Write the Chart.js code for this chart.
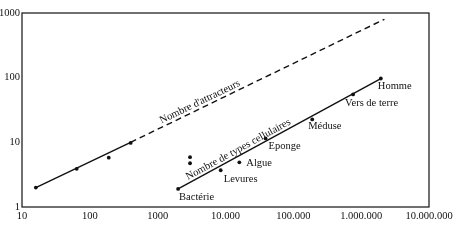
<!DOCTYPE html>
<html><head><meta charset="utf-8">
<script src="https://cdn.jsdelivr.net/npm/chart.js@4"></script>
<style>html,body{margin:0;padding:0;background:#fff}canvas{display:block}</style>
</head><body>
<canvas id="c" width="459" height="240"></canvas>
<script>
const xTicks = [10, 100, 1000, 1e4, 1e5, 1e6, 1e7];
const xTickLabels = ["10", "100", "1000", "10.000", "100.000", "1.000.000", "10.000.000"];
const yTicks = [1, 10, 100, 1000];
const yTickLabels = ["1", "10", "100", "1000"];

const attractorX = [16, 64, 190, 400];
const attractorY = [2, 3.9, 5.8, 9.8];
const attractorTrendX = [16, 400, 2.2e6];
const attractorTrendY = [2, 10, 800];

const cellNames = ["Bactérie", "", "", "Levures", "Algue", "Eponge", "Méduse", "Vers de terre", "Homme"];
const cellX = [2000, 3000, 3000, 8500, 16000, 39000, 190000, 760000, 1950000];
const cellY = [1.9, 5.9, 4.75, 3.7, 4.9, 11.5, 22.6, 55, 97];
const cellTrendX = [2000, 1950000];
const cellTrendY = [1.9, 97];

const lineLabels = ["Nombre d'attracteurs", "Nombre de types cellulaires"];

const pts = (xs, ys) => xs.map((x, i) => ({x: x, y: ys[i]}));

// label offsets in pixels (style only)
const labelOffsets = [[1, 8], null, null, [3, 9], [7, 1], [3, 8], [-4, 7], [-8, 9], [-3, 8]];
const FONT = "10.5px 'Liberation Serif', 'DejaVu Serif', serif";
const INK = '#111';

const annot = {
  id: 'annot',
  afterDatasetsDraw(chart) {
    const {ctx, chartArea: a, scales: {x, y}} = chart;
    ctx.save();
    // frame
    ctx.strokeStyle = INK;
    ctx.lineWidth = 1.2;
    ctx.strokeRect(a.left, a.top, a.right - a.left, a.bottom - a.top);
    ctx.fillStyle = INK;
    ctx.font = FONT;
    ctx.textBaseline = 'middle';
    ctx.textAlign = 'left';
    cellNames.forEach((n, i) => {
      if (!n) return;
      const px = x.getPixelForValue(cellX[i]);
      const py = y.getPixelForValue(cellY[i]);
      const o = labelOffsets[i];
      ctx.fillText(n, px + o[0], py + o[1]);
    });
    // line labels along trend lines
    const drawAlong = (txt, xs, ys, xAt, gap) => {
      const x0 = x.getPixelForValue(xs[0]), y0 = y.getPixelForValue(ys[0]);
      const x1 = x.getPixelForValue(xs[xs.length - 1]), y1 = y.getPixelForValue(ys[ys.length - 1]);
      const ang = Math.atan2(y1 - y0, x1 - x0);
      const lx0 = Math.log10(xs[0]), lx1 = Math.log10(xs[xs.length - 1]);
      const ly0 = Math.log10(ys[0]), ly1 = Math.log10(ys[ys.length - 1]);
      const t = (Math.log10(xAt) - lx0) / (lx1 - lx0);
      const yAt = Math.pow(10, ly0 + t * (ly1 - ly0));
      const px = x.getPixelForValue(xAt), py = y.getPixelForValue(yAt);
      ctx.save();
      ctx.translate(px, py);
      ctx.rotate(ang);
      ctx.textAlign = 'center';
      ctx.textBaseline = 'alphabetic';
      ctx.fillText(txt, 0, -gap);
      ctx.restore();
    };
    drawAlong(lineLabels[0], attractorTrendX, attractorTrendY, 4570, 3);
    drawAlong(lineLabels[1], cellTrendX, cellTrendY, 17000, 3);
    ctx.restore();
  }
};

new Chart(document.getElementById('c'), {
  type: 'scatter',
  data: {
    datasets: [
      {data: pts(attractorX, attractorY), pointRadius: 1.9, pointBackgroundColor: INK, pointBorderWidth: 0, showLine: false},
      {data: pts(attractorTrendX.slice(0, 2), attractorTrendY.slice(0, 2)), showLine: true, pointRadius: 0, borderColor: INK, borderWidth: 1.4},
      {data: pts(attractorTrendX.slice(1), attractorTrendY.slice(1)), showLine: true, pointRadius: 0, borderColor: INK, borderWidth: 1.4, borderDash: [6, 4]},
      {data: pts(cellX, cellY), pointRadius: 1.9, pointBackgroundColor: INK, pointBorderWidth: 0, showLine: false},
      {data: pts(cellTrendX, cellTrendY), showLine: true, pointRadius: 0, borderColor: INK, borderWidth: 1.4}
    ]
  },
  options: {
    responsive: false,
    animation: false,
    devicePixelRatio: 1,
    layout: {padding: {top: 13, right: 30, left: 0, bottom: 0}},
    plugins: {legend: {display: false}, tooltip: {enabled: false}},
    scales: {
      x: {
        type: 'logarithmic', min: 10, max: 1e7,
        afterBuildTicks: s => { s.ticks = xTicks.map(v => ({value: v})); },
        afterFit: s => { s.height = 33; },
        grid: {display: false, drawTicks: false},
        border: {display: false},
        ticks: {
          autoSkip: false, maxRotation: 0, padding: 3, color: INK,
          font: {family: "'Liberation Serif'", size: 10.5},
          callback: v => xTickLabels[xTicks.indexOf(v)]
        }
      },
      y: {
        type: 'logarithmic', min: 1, max: 1000,
        afterBuildTicks: s => { s.ticks = yTicks.map(v => ({value: v})); },
        afterFit: s => { s.width = 22; },
        grid: {display: false, drawTicks: false},
        border: {display: false},
        ticks: {
          autoSkip: false, padding: 2, color: INK,
          font: {family: "'Liberation Serif'", size: 10.5},
          callback: v => yTickLabels[yTicks.indexOf(v)]
        }
      }
    }
  },
  plugins: [annot]
});
</script>
</body></html>
